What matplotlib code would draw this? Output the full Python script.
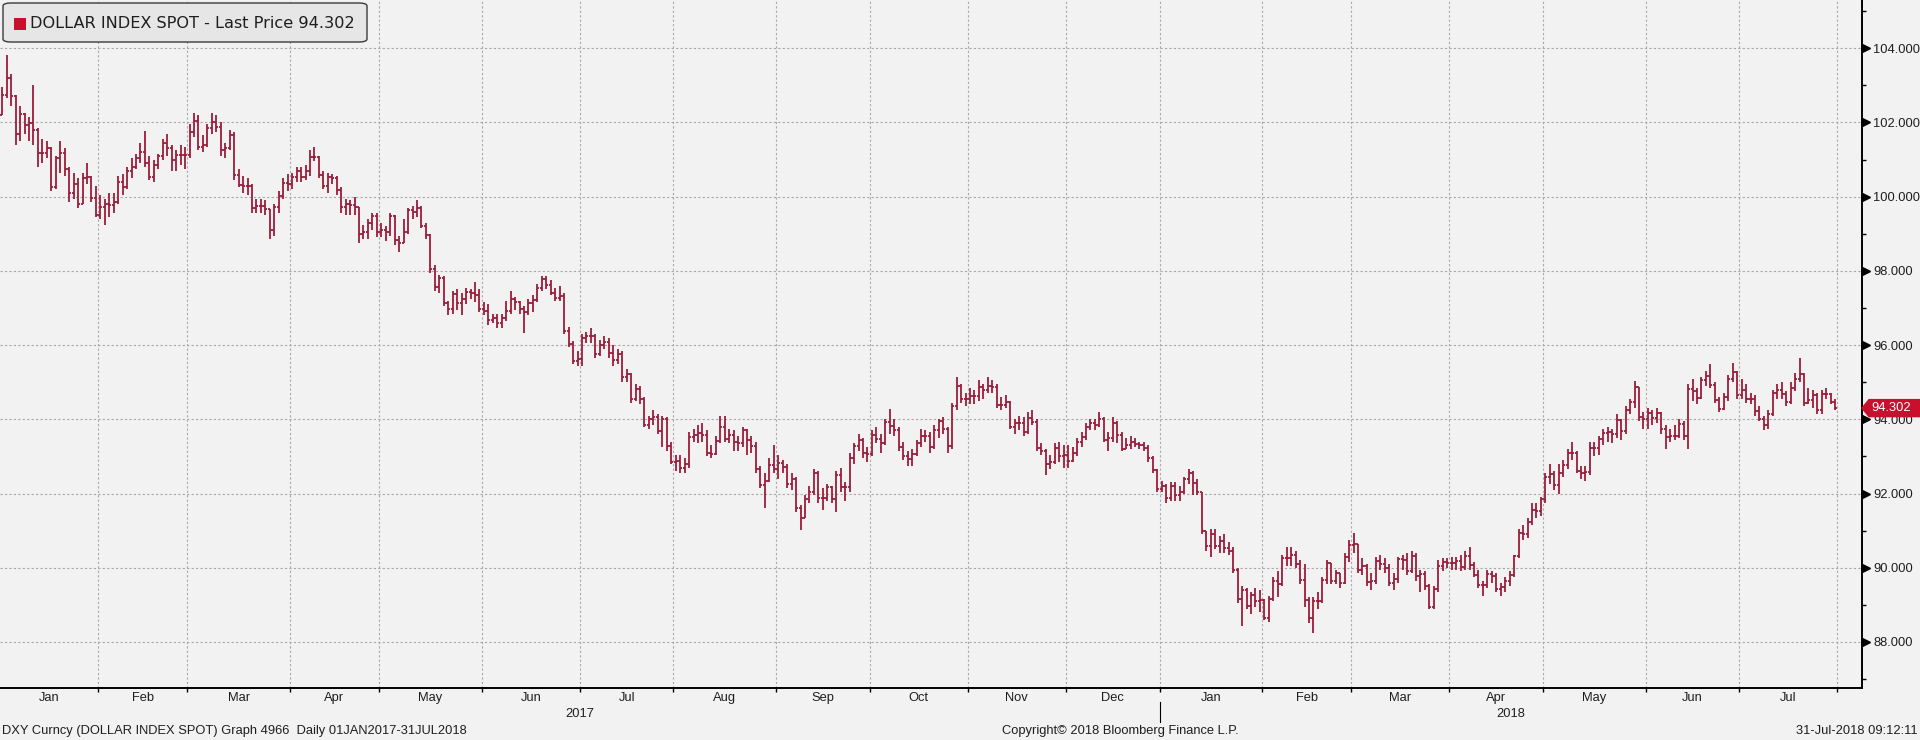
"""
DXY (Dollar Index Spot) daily OHLC bars, Jan 2017 - Jul 2018, Bloomberg style.
"""

import matplotlib
matplotlib.use("Agg")
import matplotlib.pyplot as plt
import matplotlib.transforms as mtransforms
from matplotlib.collections import LineCollection
from matplotlib.patches import FancyBboxPatch, Polygon
import numpy as np
import pandas as pd

# ---- data: one row per month, one value per weekday ----
first_open = 102.21  # close of 30-Dec-2016

close = [
    102.75, 103.21, 102.70, 101.68, 102.22, 101.94, 101.98, 101.80, 101.19, 101.17, 101.30, 100.25, 101.03, 101.17, 100.75, 100.09, 100.34, 99.81, 100.51, 100.53, 99.96, 99.51,
    99.72, 99.80, 99.77, 99.85, 100.39, 100.25, 100.69, 100.79, 101.03, 101.20, 100.91, 100.53, 100.86, 101.10, 101.45, 101.30, 101.00, 101.12, 101.13, 101.12,
    101.75, 102.05, 101.35, 101.40, 101.85, 102.00, 101.87, 101.25, 101.31, 101.67, 100.59, 100.32, 100.30, 100.28, 99.70, 99.74, 99.76, 99.67, 99.09, 99.71, 100.02, 100.38, 100.35,
    100.52, 100.69, 100.54, 100.70, 101.08, 101.06, 100.58, 100.29, 100.52, 100.51, 100.18, 99.72, 99.79, 99.78, 99.73, 98.99, 99.06, 99.30, 99.48, 99.06,
    99.10, 99.05, 99.49, 98.83, 98.75, 99.05, 99.63, 99.58, 99.69, 99.22, 98.96, 98.06, 97.56, 97.80, 97.13, 96.96, 97.38, 97.14, 97.24, 97.42, 97.40, 97.34, 96.96,
    96.91, 96.67, 96.74, 96.60, 96.72, 96.93, 97.25, 97.16, 96.98, 96.88, 97.13, 97.21, 97.54, 97.78, 97.63, 97.40, 97.28, 97.33, 96.39, 96.03, 95.57, 95.63,
    96.20, 96.24, 96.25, 95.77, 96.01, 96.09, 95.80, 95.61, 95.76, 95.15, 95.22, 94.55, 94.82, 94.55, 93.86, 94.00, 94.05, 93.69, 94.02, 93.27, 92.86,
    92.89, 92.70, 92.80, 93.53, 93.57, 93.63, 93.57, 93.08, 93.07, 93.42, 93.79, 93.48, 93.57, 93.39, 93.36, 93.71, 93.43, 93.28, 92.66, 92.22, 92.35, 92.77, 92.66,
    92.82, 92.71, 92.26, 92.39, 91.60, 91.33, 91.86, 92.05, 92.56, 91.89, 91.87, 92.17, 91.85, 92.50, 92.18, 92.17, 92.97, 93.29, 93.45, 93.08, 93.07,
    93.58, 93.48, 93.35, 93.93, 93.82, 93.72, 93.25, 93.00, 92.92, 93.07, 93.36, 93.56, 93.54, 93.26, 93.70, 93.95, 93.74, 93.27, 94.36, 94.91, 94.55, 94.55,
    94.64, 94.63, 94.88, 94.80, 94.90, 94.88, 94.38, 94.39, 94.47, 93.80, 93.90, 93.90, 93.66, 94.03, 93.93, 93.22, 93.14, 92.79, 92.86, 93.22, 93.02, 93.04,
    92.89, 93.10, 93.40, 93.52, 93.80, 93.90, 93.86, 94.02, 93.45, 93.50, 93.91, 93.58, 93.20, 93.30, 93.40, 93.33, 93.30, 93.22, 92.95, 92.64, 92.12,
    92.20, 91.87, 92.21, 91.95, 92.04, 92.38, 92.55, 92.29, 92.03, 90.98, 90.58, 90.92, 90.60, 90.71, 90.52, 90.45, 89.93, 89.15, 89.40, 88.98, 89.27, 89.10, 89.13,
    88.65, 89.17, 89.63, 89.56, 90.27, 90.25, 90.35, 90.10, 89.66, 89.13, 88.64, 89.10, 89.10, 89.66, 90.12, 89.63, 89.86, 89.59, 90.30, 90.61,
    90.65, 89.94, 90.05, 89.62, 89.63, 90.18, 90.11, 89.99, 89.60, 89.69, 90.24, 90.21, 89.91, 90.33, 89.77, 89.84, 89.50, 88.95, 89.43, 90.06, 90.15, 90.13,
    90.13, 90.17, 90.01, 90.33, 90.07, 89.81, 89.53, 89.54, 89.82, 89.79, 89.44, 89.47, 89.63, 89.81, 90.31, 90.95, 90.91, 91.23, 91.55, 91.53, 91.84,
    92.45, 92.54, 92.24, 92.56, 92.77, 93.08, 93.08, 92.62, 92.55, 92.59, 93.22, 93.22, 93.46, 93.63, 93.66, 93.60, 93.97, 93.68, 94.25, 94.47, 94.86, 94.05, 94.00,
    94.17, 94.03, 94.18, 93.75, 93.53, 93.56, 93.56, 93.88, 93.55, 94.81, 94.77, 94.57, 95.06, 95.16, 94.92, 94.52, 94.28, 94.60, 95.10, 95.27, 94.65,
    94.80, 94.56, 94.55, 94.22, 94.00, 93.85, 94.15, 94.71, 94.78, 94.67, 94.48, 94.85, 95.10, 95.21, 94.45, 94.51, 94.65, 94.24, 94.69, 94.68, 94.47, 94.302,
]

high = [
    102.95, 103.82, 103.30, 102.75, 102.45, 102.25, 102.15, 103.00, 101.85, 101.55, 101.50, 101.35, 101.10, 101.50, 101.30, 100.80, 100.65, 100.50, 100.65, 100.90, 100.55, 100.30,
    100.05, 99.95, 100.10, 100.10, 100.55, 100.60, 100.80, 101.05, 101.15, 101.45, 101.76, 101.10, 101.00, 101.15, 101.55, 101.70, 101.40, 101.25, 101.40, 101.35,
    101.95, 102.26, 102.20, 101.65, 101.95, 102.25, 102.20, 102.00, 101.45, 101.80, 101.75, 100.75, 100.55, 100.50, 100.35, 99.95, 99.95, 99.90, 99.60, 99.80, 100.15, 100.50, 100.60,
    100.65, 100.80, 100.80, 100.85, 101.25, 101.33, 101.10, 100.70, 100.65, 100.60, 100.55, 100.25, 99.95, 99.90, 100.00, 99.35, 99.25, 99.40, 99.55, 99.55,
    99.30, 99.20, 99.55, 99.50, 98.95, 99.40, 99.70, 99.75, 99.90, 99.75, 99.30, 99.00, 98.15, 97.90, 97.85, 97.20, 97.45, 97.50, 97.40, 97.55, 97.50, 97.70, 97.50,
    97.15, 97.10, 96.85, 96.85, 96.85, 97.20, 97.45, 97.30, 97.20, 97.05, 97.25, 97.35, 97.65, 97.85, 97.85, 97.75, 97.55, 97.60, 97.40, 96.50, 96.10, 95.85,
    96.30, 96.35, 96.45, 96.30, 96.15, 96.25, 96.20, 96.00, 95.90, 95.85, 95.35, 95.25, 94.95, 94.90, 94.60, 94.10, 94.25, 94.15, 94.10, 94.05, 93.40,
    93.05, 93.05, 92.95, 93.65, 93.75, 93.85, 93.90, 93.70, 93.30, 93.55, 94.10, 94.10, 93.75, 93.70, 93.55, 93.80, 93.75, 93.55, 93.40, 92.75, 92.55, 92.95, 93.30,
    93.05, 92.90, 92.80, 92.55, 92.45, 91.70, 91.95, 92.20, 92.65, 92.60, 92.15, 92.25, 92.20, 92.60, 92.70, 92.30, 93.10, 93.35, 93.60, 93.50, 93.25,
    93.70, 93.80, 93.60, 94.00, 94.27, 94.00, 93.80, 93.40, 93.15, 93.20, 93.45, 93.75, 93.70, 93.65, 93.85, 94.00, 94.05, 93.80, 94.45, 95.15, 94.95, 94.70,
    94.85, 94.80, 95.05, 94.95, 95.15, 95.05, 94.95, 94.60, 94.65, 94.50, 94.00, 94.10, 94.05, 94.20, 94.25, 94.00, 93.35, 93.20, 93.05, 93.35, 93.40, 93.30,
    93.30, 93.25, 93.50, 93.65, 93.90, 94.00, 94.00, 94.20, 94.05, 93.65, 94.05, 93.95, 93.65, 93.50, 93.55, 93.50, 93.40, 93.40, 93.30, 93.00, 92.65,
    92.35, 92.25, 92.30, 92.30, 92.20, 92.45, 92.65, 92.60, 92.40, 92.05, 91.00, 91.05, 91.05, 90.85, 90.90, 90.70, 90.55, 90.00, 89.50, 89.45, 89.35, 89.45, 89.40,
    89.15, 89.25, 89.75, 89.90, 90.35, 90.55, 90.55, 90.45, 90.20, 90.10, 89.20, 89.20, 89.35, 89.75, 90.20, 90.05, 89.95, 89.85, 90.40, 90.75,
    90.93, 90.60, 90.25, 90.10, 89.85, 90.30, 90.35, 90.25, 90.10, 89.85, 90.30, 90.35, 90.40, 90.45, 90.40, 89.95, 89.90, 89.55, 89.50, 90.20, 90.25, 90.25,
    90.30, 90.30, 90.35, 90.45, 90.55, 90.15, 89.95, 89.65, 89.95, 89.90, 89.85, 89.60, 89.75, 89.90, 90.35, 91.05, 91.15, 91.35, 91.75, 91.75, 91.90,
    92.55, 92.80, 92.60, 92.80, 92.90, 93.20, 93.40, 93.15, 92.75, 92.75, 93.40, 93.40, 93.55, 93.75, 93.80, 93.75, 94.15, 94.00, 94.35, 94.55, 95.03, 94.85, 94.20,
    94.30, 94.25, 94.30, 94.20, 93.85, 93.75, 93.85, 94.00, 93.95, 94.95, 95.10, 94.85, 95.15, 95.30, 95.50, 95.00, 94.60, 94.70, 95.20, 95.53, 95.30,
    95.10, 94.95, 94.70, 94.65, 94.35, 94.10, 94.25, 94.80, 94.95, 95.00, 94.75, 95.00, 95.25, 95.65, 95.25, 94.85, 94.80, 94.70, 94.80, 94.85, 94.70, 94.55,
]

low = [
    102.20, 102.65, 102.45, 101.40, 101.50, 101.70, 101.50, 101.40, 100.80, 100.90, 101.05, 100.15, 100.20, 100.65, 100.55, 99.85, 99.95, 99.70, 99.80, 100.35, 99.85, 99.45,
    99.40, 99.23, 99.45, 99.55, 99.80, 100.05, 100.20, 100.50, 100.75, 100.90, 100.80, 100.45, 100.40, 100.75, 101.00, 101.10, 100.70, 100.70, 100.85, 100.75,
    101.05, 101.60, 101.25, 101.20, 101.35, 101.70, 101.75, 101.10, 101.05, 101.25, 100.45, 100.25, 100.10, 100.05, 99.55, 99.55, 99.55, 99.50, 98.85, 98.95, 99.55, 99.95, 100.15,
    100.20, 100.40, 100.40, 100.45, 100.55, 100.95, 100.50, 100.20, 100.10, 100.35, 100.05, 99.55, 99.50, 99.50, 99.50, 98.75, 98.85, 98.85, 99.10, 98.90,
    98.90, 98.80, 98.95, 98.70, 98.50, 98.80, 99.00, 99.40, 99.45, 99.15, 98.85, 97.95, 97.45, 97.40, 97.05, 96.80, 96.85, 96.95, 96.80, 97.10, 97.25, 97.15, 96.90,
    96.80, 96.55, 96.60, 96.45, 96.45, 96.65, 96.85, 96.95, 96.85, 96.32, 96.80, 96.90, 97.15, 97.45, 97.50, 97.35, 97.20, 97.20, 96.30, 95.95, 95.50, 95.45,
    95.45, 96.05, 96.05, 95.65, 95.70, 95.90, 95.65, 95.45, 95.50, 95.00, 95.00, 94.45, 94.50, 94.40, 93.80, 93.75, 93.85, 93.60, 93.25, 93.15, 92.80,
    92.60, 92.55, 92.55, 92.70, 93.40, 93.35, 93.40, 93.00, 92.95, 93.05, 93.35, 93.40, 93.35, 93.15, 93.15, 93.25, 93.05, 93.10, 92.55, 92.15, 91.62, 92.30, 92.55,
    92.40, 92.55, 92.15, 92.10, 91.50, 91.01, 91.40, 91.75, 91.95, 91.75, 91.55, 91.80, 91.75, 91.50, 92.05, 91.80, 92.05, 92.80, 93.15, 92.95, 92.85,
    93.00, 93.35, 93.10, 93.30, 93.60, 93.55, 93.15, 92.90, 92.75, 92.75, 93.00, 93.25, 93.40, 93.10, 93.20, 93.50, 93.60, 93.10, 93.20, 94.25, 94.45, 94.35,
    94.40, 94.40, 94.50, 94.55, 94.70, 94.70, 94.30, 94.25, 94.30, 93.75, 93.60, 93.70, 93.55, 93.60, 93.85, 93.15, 93.05, 92.50, 92.65, 92.80, 92.85, 92.70,
    92.70, 92.85, 93.00, 93.25, 93.45, 93.70, 93.70, 93.80, 93.40, 93.15, 93.40, 93.35, 93.15, 93.20, 93.20, 93.25, 93.20, 93.15, 92.85, 92.55, 92.05,
    92.05, 91.75, 91.80, 91.80, 91.80, 92.00, 92.25, 91.95, 91.95, 90.90, 90.45, 90.30, 90.50, 90.40, 90.40, 90.35, 89.85, 89.05, 88.44, 88.90, 88.75, 88.95, 88.80,
    88.60, 88.55, 89.10, 89.20, 89.50, 90.05, 90.05, 90.00, 89.55, 88.95, 88.50, 88.25, 88.90, 89.05, 89.55, 89.55, 89.55, 89.45, 89.55, 90.15,
    90.40, 89.85, 89.80, 89.50, 89.40, 89.55, 89.95, 89.85, 89.50, 89.40, 89.60, 89.95, 89.80, 89.85, 89.65, 89.35, 89.40, 88.90, 88.90, 89.35, 89.90, 90.00,
    89.95, 89.95, 89.90, 89.95, 89.95, 89.75, 89.45, 89.25, 89.45, 89.60, 89.35, 89.25, 89.35, 89.50, 89.75, 90.25, 90.75, 90.80, 91.15, 91.35, 91.40,
    91.75, 92.25, 92.10, 92.00, 92.45, 92.65, 92.90, 92.55, 92.40, 92.35, 92.50, 93.00, 93.05, 93.30, 93.40, 93.35, 93.50, 93.45, 93.60, 94.15, 94.30, 93.95, 93.75,
    93.75, 93.85, 93.90, 93.60, 93.20, 93.40, 93.45, 93.50, 93.45, 93.20, 94.50, 94.40, 94.55, 94.90, 94.85, 94.45, 94.20, 94.25, 94.50, 95.00, 94.55,
    94.55, 94.45, 94.40, 94.10, 93.95, 93.70, 93.75, 94.10, 94.55, 94.55, 94.35, 94.40, 94.75, 95.00, 94.35, 94.40, 94.30, 94.15, 94.15, 94.55, 94.40, 94.25,
]

y_ticks = [88, 90, 92, 94, 96, 98, 100, 102, 104]
legend_label = "DOLLAR INDEX SPOT - Last Price 94.302"
footer_left = "DXY Curncy (DOLLAR INDEX SPOT) Graph 4966  Daily 01JAN2017-31JUL2018"
footer_mid = "Copyright\u00a9 2018 Bloomberg Finance L.P."
footer_right = "31-Jul-2018 09:12:11"

BG = "#f2f2f2"
BAR = "#9b1d3a"
RED = "#c8102e"
GRID = "#a8a8a8"
INK = "#1e1e1e"
SMALL = ["Liberation Sans", "DejaVu Sans"]
FS = 9.3

W, H = 1920, 740

dates = pd.bdate_range("2017-01-02", "2018-07-31")
n = len(dates)
assert len(close) == n and len(high) == n and len(low) == n, (n, len(close), len(high), len(low))

c = np.array(close)
o = np.r_[first_open, c[:-1]]  # FX: open = previous close
hi = np.maximum(np.array(high), np.maximum(o, c))
lo = np.minimum(np.array(low), np.minimum(o, c))
x = np.arange(n)

fig = plt.figure(figsize=(W / 100, H / 100), dpi=100, facecolor=BG)
ax = fig.add_axes([0, 52 / H, 1862 / W, 688 / H], facecolor=BG)

# OHLC bars
w = 0.45
segs = []
for i in range(n):
    segs.append([(x[i], lo[i]), (x[i], hi[i])])
    segs.append([(x[i] - w, o[i]), (x[i], o[i])])
    segs.append([(x[i], c[i]), (x[i] + w, c[i])])
ax.add_collection(LineCollection(segs, colors=BAR, linewidths=1.3, capstyle="butt", zorder=3))

ax.set_xlim(-0.5, 417.0)
ax.set_ylim(86.76, 105.30)

# month boundaries / month label positions
month_start = [0] + [i for i in range(1, n) if dates[i].month != dates[i - 1].month]
bounds = [s - 0.5 for s in month_start] + [n - 0.5]
mids = [(bounds[k] + bounds[k + 1]) / 2 for k in range(len(bounds) - 1)]
mlabels = [dates[s].strftime("%b") for s in month_start]

ax.set_xticks(bounds[1:])
ax.set_xticklabels([])
ax.set_xticks(mids, minor=True)
ax.set_xticklabels(mlabels, minor=True, family=SMALL, fontsize=FS)
ax.tick_params(axis="x", which="major", direction="out", length=3, width=1, color="black")
ax.tick_params(axis="x", which="minor", length=0, pad=3, labelcolor=INK)

# y axis on the right
ax.yaxis.tick_right()
ax.set_yticks(y_ticks)
ax.set_yticklabels([f"{v:.3f}" for v in y_ticks], family=SMALL, fontsize=FS, color=INK)
ax.set_yticks(np.arange(87, 106, 2), minor=True)
ax.tick_params(axis="y", which="major", length=0, pad=8)
ax.tick_params(axis="y", which="minor", direction="out", length=3, width=1, color="black")

ax.grid(True, which="major", color=GRID, linestyle=(0, (2, 2)), linewidth=0.8)
ax.set_axisbelow(True)

for side in ("left", "top"):
    ax.spines[side].set_visible(False)
for side in ("right", "bottom"):
    ax.spines[side].set_color("black")
    ax.spines[side].set_linewidth(1.4)

# triangle markers on the right axis at major ticks
tr = mtransforms.blended_transform_factory(ax.transAxes, ax.transData)
ax.plot([1.0022] * len(y_ticks), y_ticks, marker=">", markersize=5.5, color="black",
        linestyle="none", transform=tr, clip_on=False, zorder=5)

# year separator and year labels
trx = mtransforms.blended_transform_factory(ax.transData, ax.transAxes)
ax.plot([259.5, 259.5], [-14 / 688, -34 / 688], color="black", linewidth=0.8,
        transform=trx, clip_on=False)
ax.text((bounds[0] + 259.5) / 2, -26 / 688, "2017", transform=trx, ha="center", va="center",
        family=SMALL, fontsize=FS, color=INK)
ax.text((259.5 + 417.0) / 2, -26 / 688, "2018", transform=trx, ha="center", va="center",
        family=SMALL, fontsize=FS, color=INK)

# last price tag
last = c[-1]
trf = mtransforms.blended_transform_factory(fig.transFigure, ax.transData)
hh = 8.5 / 37.1
tag = Polygon([(1862 / W, last), (1869 / W, last + hh), (1.0, last + hh),
               (1.0, last - hh), (1869 / W, last - hh)],
              closed=True, facecolor=RED, edgecolor=RED, transform=trf, clip_on=False, zorder=6)
ax.add_patch(tag)
ax.text(1891 / W, last, f"{last:.3f}", transform=trf, ha="center", va="center",
        color="white", family=SMALL, fontsize=FS, zorder=7)

# legend box
box = FancyBboxPatch((3 / W, 1 - 42 / H), 364 / W, 39 / H,
                     boxstyle="round,pad=0,rounding_size=0.004",
                     transform=fig.transFigure, facecolor="#e6e6e6", edgecolor="#3a3a3a",
                     linewidth=1.0, zorder=8)
fig.patches.append(box)
sq = plt.Rectangle((14 / W, 1 - 30 / H), 12 / W, 12 / H, transform=fig.transFigure,
                   facecolor=RED, edgecolor="none", zorder=9)
fig.patches.append(sq)
fig.text(30 / W, 1 - 24 / H, legend_label, ha="left", va="center", fontsize=11.6,
         family=["DejaVu Sans"], color=INK, zorder=10)

# footer
fig.text(2 / W, 1 - 731 / H, footer_left, ha="left", va="center", family=SMALL,
         fontsize=FS, color=INK)
fig.text(1120 / W, 1 - 731 / H, footer_mid, ha="center", va="center", family=SMALL,
         fontsize=FS, color=INK)
fig.text(1918 / W, 1 - 731 / H, footer_right, ha="right", va="center", family=SMALL,
         fontsize=FS, color=INK)

fig.savefig("out.png", dpi=100, facecolor=BG)
